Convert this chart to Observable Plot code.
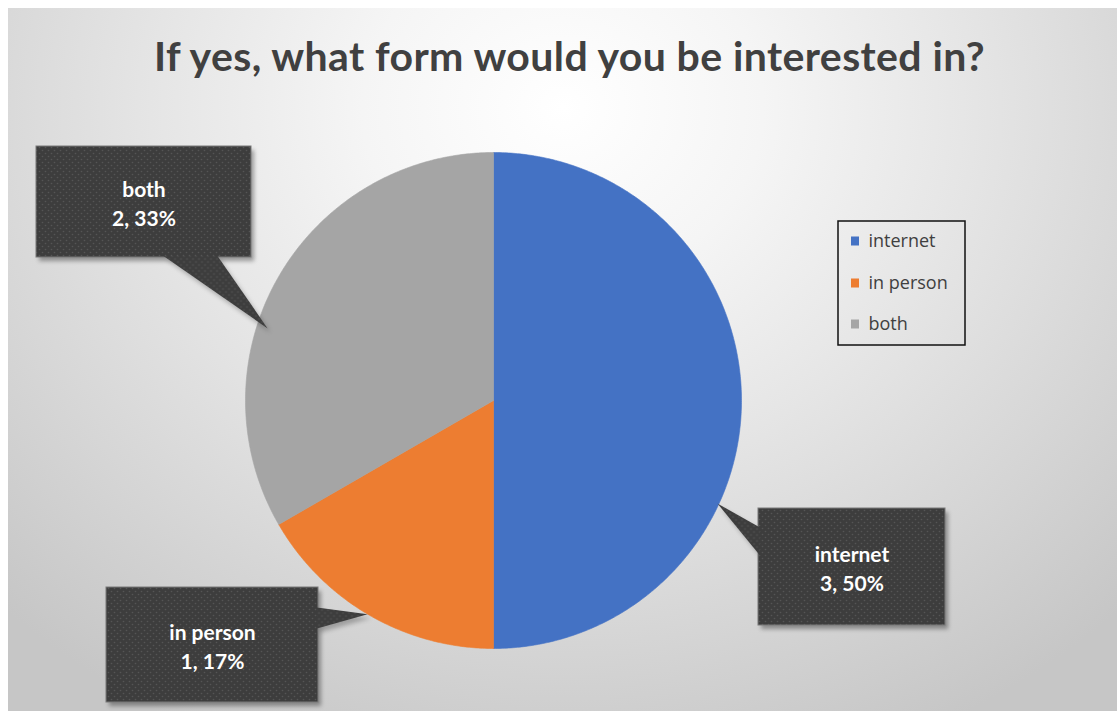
<!DOCTYPE html>
<html>
<head>
<meta charset="utf-8">
<script src="https://cdn.jsdelivr.net/npm/d3@7"></script>
<script src="https://cdn.jsdelivr.net/npm/@observablehq/plot@0.6"></script>
<style>
  html, body { margin: 0; padding: 0; background: #ffffff; }
  #chart {
    position: absolute; left: 8px; top: 8px; width: 1109px; height: 703px;
    background: radial-gradient(800px 700px at 555px 100px, #ffffff 0%, #f5f5f5 25%, #e6e6e6 50%, #d6d6d6 75%, #c6c6c6 100%);
    overflow: hidden;
  }
  #title {
    height: 96px; box-sizing: border-box; padding-top: 27px; padding-left: 14px;
    text-align: center; font-family: Lato, "Open Sans", sans-serif; font-weight: bold;
    font-size: 41px; line-height: 41px; letter-spacing: 0.4px; color: #404040; white-space: nowrap;
  }
  #chart svg { display: block; }
</style>
</head>
<body>
<div id="chart"><div id="title"></div></div>
<script>
// ---- data ----
const titleText = "If yes, what form would you be interested in?";
const categories = ["internet", "in person", "both"];
const counts = [3, 1, 2];
const sliceColors = ["#4472C4", "#ED7D31", "#A5A5A5"];

// ---- layout (page pixels) ----
const PIE = {cx: 493, cy: 400, r: 248};
const SVG_ORIGIN = {x: 8, y: 104};
const SVG_SIZE = {w: 1109, h: 607};
const CALLOUTS = [
  {cat: "internet",  box: [758, 508, 945, 625], base: [[759.5, 527], [759.5, 555]], tipAngle: 114.7, tipR: 0.994},
  {cat: "in person", box: [106, 587, 318, 702], base: [[316.5, 607], [316.5, 628]], tipAngle: 210.5, tipR: 1.0},
  {cat: "both",      box: [36, 146, 251, 257],  base: [[163, 255.5], [217, 255.5]], tipAngle: 287.7, tipR: 0.956}
];
const LEGEND = {box: [838, 221, 965, 345], swatchX: [851, 859], textX: 868, rowY: [241, 283, 324], sw: 9};

document.getElementById("title").textContent = titleText;

// page px -> pie units
const U = px => (px - PIE.cx) / PIE.r;
const V = py => (PIE.cy - py) / PIE.r;

const total = d3.sum(counts);
const pct = counts.map(c => Math.round(c / total * 100));

// pie wedge polygons (angles clockwise from 12 o'clock)
const piePoints = [];
let acc = 0;
categories.forEach((cat, i) => {
  const a0 = acc / total * 360, a1 = (acc + counts[i]) / total * 360;
  acc += counts[i];
  piePoints.push({cat, x: 0, y: 0});
  const steps = Math.ceil((a1 - a0) / 0.5);
  for (let k = 0; k <= steps; k++) {
    const a = (a0 + (a1 - a0) * k / steps) * Math.PI / 180;
    piePoints.push({cat, x: Math.sin(a), y: Math.cos(a)});
  }
  piePoints.push({cat, x: 0, y: 0});
});

const calloutData = CALLOUTS.map(c => {
  const i = categories.indexOf(c.cat);
  return {
    cat: c.cat,
    x1: U(c.box[0]), x2: U(c.box[2]), y1: V(c.box[1]), y2: V(c.box[3]),
    cx: U((c.box[0] + c.box[2]) / 2), cy: V((c.box[1] + c.box[3]) / 2),
    label: `${c.cat}\n${counts[i]}, ${pct[i]}%`
  };
});
const pointerPts = [];
CALLOUTS.forEach(c => {
  const a = c.tipAngle * Math.PI / 180;
  pointerPts.push({cat: c.cat, x: U(c.base[0][0]), y: V(c.base[0][1])});
  pointerPts.push({cat: c.cat, x: c.tipR * Math.sin(a), y: c.tipR * Math.cos(a)});
  pointerPts.push({cat: c.cat, x: U(c.base[1][0]), y: V(c.base[1][1])});
});

const legendData = categories.map((cat, i) => ({
  cat,
  x1: U(LEGEND.swatchX[0]), x2: U(LEGEND.swatchX[1]),
  y1: V(LEGEND.rowY[i] - LEGEND.sw / 2), y2: V(LEGEND.rowY[i] + LEGEND.sw / 2),
  tx: U(LEGEND.textX), ty: V(LEGEND.rowY[i])
}));
const legendBox = [{x1: U(LEGEND.box[0]), x2: U(LEGEND.box[2]), y1: V(LEGEND.box[1]), y2: V(LEGEND.box[3])}];

const chart = Plot.plot({
  width: SVG_SIZE.w,
  height: SVG_SIZE.h,
  margin: 0,
  style: {background: "transparent", overflow: "visible"},
  x: {domain: [-1, 1], range: [PIE.cx - PIE.r - SVG_ORIGIN.x, PIE.cx + PIE.r - SVG_ORIGIN.x], axis: null},
  y: {domain: [-1, 1], range: [PIE.cy + PIE.r - SVG_ORIGIN.y, PIE.cy - PIE.r - SVG_ORIGIN.y], axis: null},
  color: {domain: categories, range: sliceColors},
  marks: [
    Plot.line(piePoints, {x: "x", y: "y", z: "cat", fill: "cat", stroke: "cat", strokeWidth: 0.6}),
    // shadows
    Plot.rect(calloutData, {x1: "x1", x2: "x2", y1: "y1", y2: "y2", fill: "#000", fillOpacity: 0.35, dx: 3, dy: 4, ariaDescription: "shadow"}),
    Plot.line(pointerPts, {x: "x", y: "y", z: "cat", fill: "#000", fillOpacity: 0.25, stroke: "none", dx: 3, dy: 4, ariaDescription: "shadow"}),
    // callouts
    Plot.rect(calloutData, {x1: "x1", x2: "x2", y1: "y1", y2: "y2", fill: "url(#calloutDots)", stroke: "#7a7a7a", strokeWidth: 1}),
    Plot.line(pointerPts, {x: "x", y: "y", z: "cat", fill: "url(#calloutDots)", stroke: "none"}),
    Plot.text(calloutData, {x: "cx", y: "cy", text: "label", fill: "#ffffff", fontSize: 21, fontWeight: "bold",
      fontFamily: "Lato, 'Open Sans', sans-serif", lineHeight: 1.4}),
    // legend
    Plot.rect(legendBox, {x1: "x1", x2: "x2", y1: "y1", y2: "y2", fill: "none", stroke: "#111", strokeWidth: 1.5}),
    Plot.rect(legendData, {x1: "x1", x2: "x2", y1: "y1", y2: "y2", fill: "cat"}),
    Plot.text(legendData, {x: "tx", y: "ty", text: "cat", textAnchor: "start", fill: "#404040", fontSize: 18,
      fontFamily: "'Open Sans', sans-serif"})
  ]
});

// pattern + shadow blur
const svg = d3.select(chart);
const defs = svg.insert("defs", ":first-child");
const pat = defs.append("pattern").attr("id", "calloutDots").attr("patternUnits", "userSpaceOnUse")
  .attr("width", 6).attr("height", 6);
pat.append("rect").attr("width", 6).attr("height", 6).attr("fill", "#3d3d3d");
pat.append("circle").attr("cx", 1.5).attr("cy", 1.5).attr("r", 0.8).attr("fill", "#555555");
pat.append("circle").attr("cx", 4.5).attr("cy", 4.5).attr("r", 0.8).attr("fill", "#555555");
svg.selectAll('[aria-description="shadow"]').style("filter", "blur(2px)");

document.getElementById("chart").appendChild(chart);
</script>
</body>
</html>
